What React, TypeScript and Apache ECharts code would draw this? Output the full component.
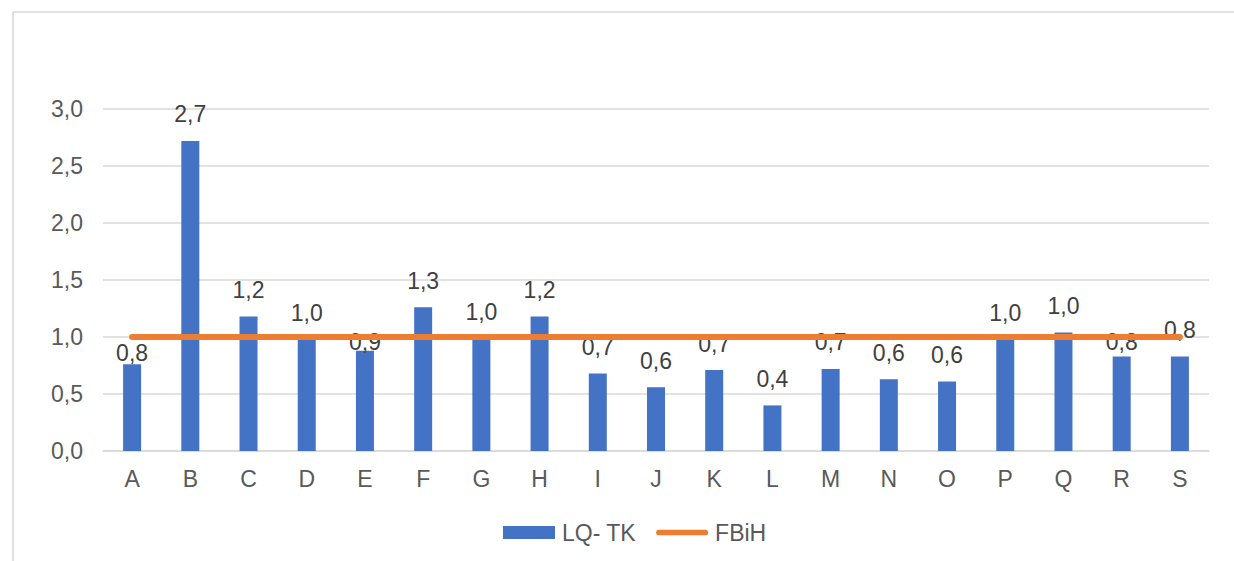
import React, { useEffect, useRef } from "react";
import * as echarts from "echarts";

const categories = ["A", "B", "C", "D", "E", "F", "G", "H", "I", "J", "K", "L", "M", "N", "O", "P", "Q", "R", "S"];
const lqTk = [0.76, 2.72, 1.18, 0.98, 0.88, 1.26, 0.99, 1.18, 0.68, 0.56, 0.71, 0.4, 0.72, 0.63, 0.61, 0.98, 1.04, 0.83, 0.83];
const fbih = [1, 1, 1, 1, 1, 1, 1, 1, 1, 1, 1, 1, 1, 1, 1, 1, 1, 1, 1];
// vertical nudges of individual data labels (as placed in the reference)
const labelNudge = [15, 0, 0, 0, 18, 0, 0, 0, 0, 0, 0, 0, 0, 0, 0, 0, 0, 12, 0];

const fmt = (v: number) => v.toFixed(1).replace(".", ",");
const FONT = "'Liberation Sans', Arial, sans-serif";
const FS = 23;

export default function App() {
  const ref = useRef<HTMLDivElement>(null);
  useEffect(() => {
    if (!ref.current) return;
    const chart = echarts.init(ref.current, undefined, { renderer: "svg" });
    chart.setOption({
      animation: false,
      backgroundColor: "#ffffff",
      textStyle: { fontFamily: FONT },
      graphic: [
        {
          type: "rect",
          shape: { x: 13, y: 12, width: 1400, height: 700 },
          style: { fill: "none", stroke: "#d9d9d9", lineWidth: 1.6 },
          silent: true,
          z: -10,
        },
      ],
      grid: { left: 103, right: 25, top: 109, bottom: 110, containLabel: false },
      legend: {
        left: 498,
        top: 516,
        itemWidth: 52,
        itemHeight: 13,
        itemGap: 20,
        textStyle: { fontSize: FS, color: "#595959", fontFamily: FONT, padding: [0, 0, 0, 2] },
        data: [
          { name: "LQ- TK", icon: "rect" },
          { name: "FBiH", icon: "path://M3,0 H52 A3,3 0 0 1 52,6 H3 A3,3 0 0 1 3,0 Z" },
        ],
      },
      xAxis: {
        type: "category",
        data: categories,
        axisLine: { lineStyle: { color: "#d9d9d9", width: 1.6 } },
        axisTick: { show: false },
        axisLabel: { color: "#595959", fontSize: FS, margin: 16, fontFamily: FONT },
      },
      yAxis: {
        type: "value",
        min: 0,
        max: 3,
        interval: 0.5,
        axisLine: { show: false },
        axisTick: { show: false },
        splitLine: { lineStyle: { color: "#d9d9d9", width: 1.6 } },
        axisLabel: { color: "#595959", fontSize: FS, margin: 20, formatter: (v: number) => fmt(v), fontFamily: FONT },
      },
      series: [
        {
          name: "LQ- TK",
          type: "bar",
          barWidth: 18,
          itemStyle: { color: "#4472C4" },
          data: lqTk.map((v, i) => ({
            value: v,
            label: { offset: [0, labelNudge[i]] },
          })),
          label: {
            show: true,
            position: "top",
            distance: 15,
            color: "#404040",
            fontSize: FS,
            fontFamily: FONT,
            formatter: (p: any) => fmt(p.value),
          },
          z: 2,
        },
        {
          name: "FBiH",
          type: "line",
          data: fbih,
          symbol: "none",
          lineStyle: { color: "#ED7D31", width: 6, cap: "round" },
          itemStyle: { color: "#ED7D31" },
          z: 3,
        },
      ],
    });
    return () => chart.dispose();
  }, []);
  return (
    <div
      ref={ref}
      style={{ position: "fixed", left: 0, top: 0, width: 1234, height: 561, background: "#fff" }}
    />
  );
}
